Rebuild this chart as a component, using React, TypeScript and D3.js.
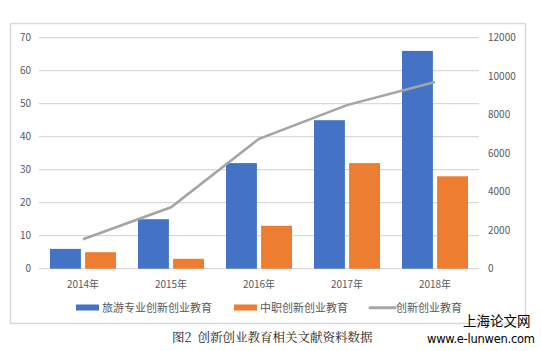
import * as d3 from 'd3';
import { useEffect, useRef } from 'react';

const years = ['2014年', '2015年', '2016年', '2017年', '2018年'];
const tourism = [6, 15, 32, 45, 66];
const vocational = [5, 3, 13, 32, 28];
const total = [1530, 3190, 6750, 8500, 9700];
const leftTicks = [0, 10, 20, 30, 40, 50, 60, 70];
const rightTicks = [0, 2000, 4000, 6000, 8000, 10000, 12000];
const legendNames = ['旅游专业创新创业教育', '中职创新创业教育', '创新创业教育'];

const BLUE = '#4472c4';
const ORANGE = '#ed7d31';
const GRAY = '#a5a5a5';
const FONT = '"Noto Sans CJK SC", "Noto Sans", sans-serif';

export default function App() {
    const ref = useRef<any>(null);

    useEffect(() => {
        const svg = d3.select<any, any>(ref.current);
        svg.selectAll('*').remove();

        const plot = { left: 39, right: 479, top: 37.7, bottom: 268.7 };

        // outer frame
        svg.append('rect')
            .attr('x', 10.5).attr('y', 23.5)
            .attr('width', 515).attr('height', 300)
            .attr('fill', 'white').attr('stroke', '#d9d9d9').attr('stroke-width', 1.5);

        const x = d3.scaleBand().domain(years).range([plot.left, plot.right]);
        const yL = d3.scaleLinear().domain([0, 70]).range([plot.bottom, plot.top]);
        const yR = d3.scaleLinear().domain([0, 12000]).range([plot.bottom, plot.top]);

        const inner = d3.scaleBand().domain(['a', 'b'])
            .range([11, x.bandwidth() - 11]).paddingInner(0.12);

        // grid
        svg.append('g').selectAll('line').data(leftTicks).join('line')
            .attr('x1', plot.left).attr('x2', plot.right)
            .attr('y1', d => yL(d)).attr('y2', d => yL(d))
            .attr('stroke', '#d9d9d9').attr('stroke-width', 1.2);

        // left axis labels
        svg.append('g').selectAll('text').data(leftTicks).join('text')
            .attr('x', 31).attr('y', d => yL(d)).attr('dy', '0.35em')
            .attr('text-anchor', 'end')
            .attr('font-family', FONT).attr('font-size', 10).attr('fill', '#595959')
            .text(d => d);

        // right axis labels
        svg.append('g').selectAll('text').data(rightTicks).join('text')
            .attr('x', 488).attr('y', d => yR(d)).attr('dy', '0.35em')
            .attr('text-anchor', 'start')
            .attr('font-family', FONT).attr('font-size', 10).attr('fill', '#595959')
            .text(d => d);

        // bars
        const bars = svg.append('g');
        bars.selectAll('.b1').data(tourism).join('rect')
            .attr('class', 'b1')
            .attr('x', (d, i) => (x(years[i]) as number) + (inner('a') as number))
            .attr('width', inner.bandwidth())
            .attr('y', d => yL(d)).attr('height', d => yL(0) - yL(d))
            .attr('fill', BLUE);
        bars.selectAll('.b2').data(vocational).join('rect')
            .attr('class', 'b2')
            .attr('x', (d, i) => (x(years[i]) as number) + (inner('b') as number))
            .attr('width', inner.bandwidth())
            .attr('y', d => yL(d)).attr('height', d => yL(0) - yL(d))
            .attr('fill', ORANGE);

        // line
        const line = d3.line<number>()
            .x((d, i) => (x(years[i]) as number) + x.bandwidth() / 2)
            .y(d => yR(d));
        svg.append('path').datum(total)
            .attr('d', line)
            .attr('fill', 'none').attr('stroke', GRAY).attr('stroke-width', 2.5);

        // x labels
        svg.append('g').selectAll('text').data(years).join('text')
            .attr('x', d => (x(d) as number) + x.bandwidth() / 2)
            .attr('y', 284).attr('dy', '0.35em')
            .attr('text-anchor', 'middle')
            .attr('font-family', FONT).attr('font-size', 10).attr('fill', '#595959')
            .text(d => d);

        // legend
        const lg = svg.append('g').attr('font-family', FONT).attr('font-size', 11).attr('fill', '#595959');
        const lx = [76, 234, 370];
        const colors = [BLUE, ORANGE, GRAY];
        legendNames.forEach((name, i) => {
            if (i < 2) {
                lg.append('rect').attr('x', lx[i]).attr('y', 304.5).attr('width', 23).attr('height', 6).attr('fill', colors[i]);
            } else {
                lg.append('line').attr('x1', lx[i]).attr('x2', lx[i] + 25)
                    .attr('y1', 307.7).attr('y2', 307.7)
                    .attr('stroke', colors[i]).attr('stroke-width', 3).attr('stroke-linecap', 'round');
            }
            lg.append('text').attr('x', lx[i] + 26).attr('y', 307.7).attr('dy', '0.35em').text(name);
        });

        // caption
        const cap = svg.append('text').attr('x', 172).attr('y', 338).attr('dy', '0.35em')
            .attr('font-family', '"Noto Serif CJK SC", "Noto Sans CJK SC", serif')
            .attr('font-size', 12.5).attr('fill', '#222');
        cap.append('tspan').text('图2');
        cap.append('tspan').attr('dx', 6).text('创新创业教育相关文献资料数据');

        // watermark
        svg.append('text').attr('x', 463).attr('y', 321.5).attr('dy', '0.35em')
            .attr('font-family', '"Noto Sans CJK SC", sans-serif')
            .attr('font-size', 13.5).attr('fill', '#000')
            .text('上海论文网');
        svg.append('text').attr('x', 427).attr('y', 338.5).attr('dy', '0.35em')
            .attr('font-family', '"DejaVu Sans", sans-serif')
            .attr('font-size', 11.5).attr('fill', '#000').attr('textLength', 108)
            .text('www.e-lunwen.com');
    }, []);

    return (
        <svg ref={ref} width={541} height={351}
            style={{ position: 'absolute', left: 0, top: 0, background: 'white' }}></svg>
    );
}
